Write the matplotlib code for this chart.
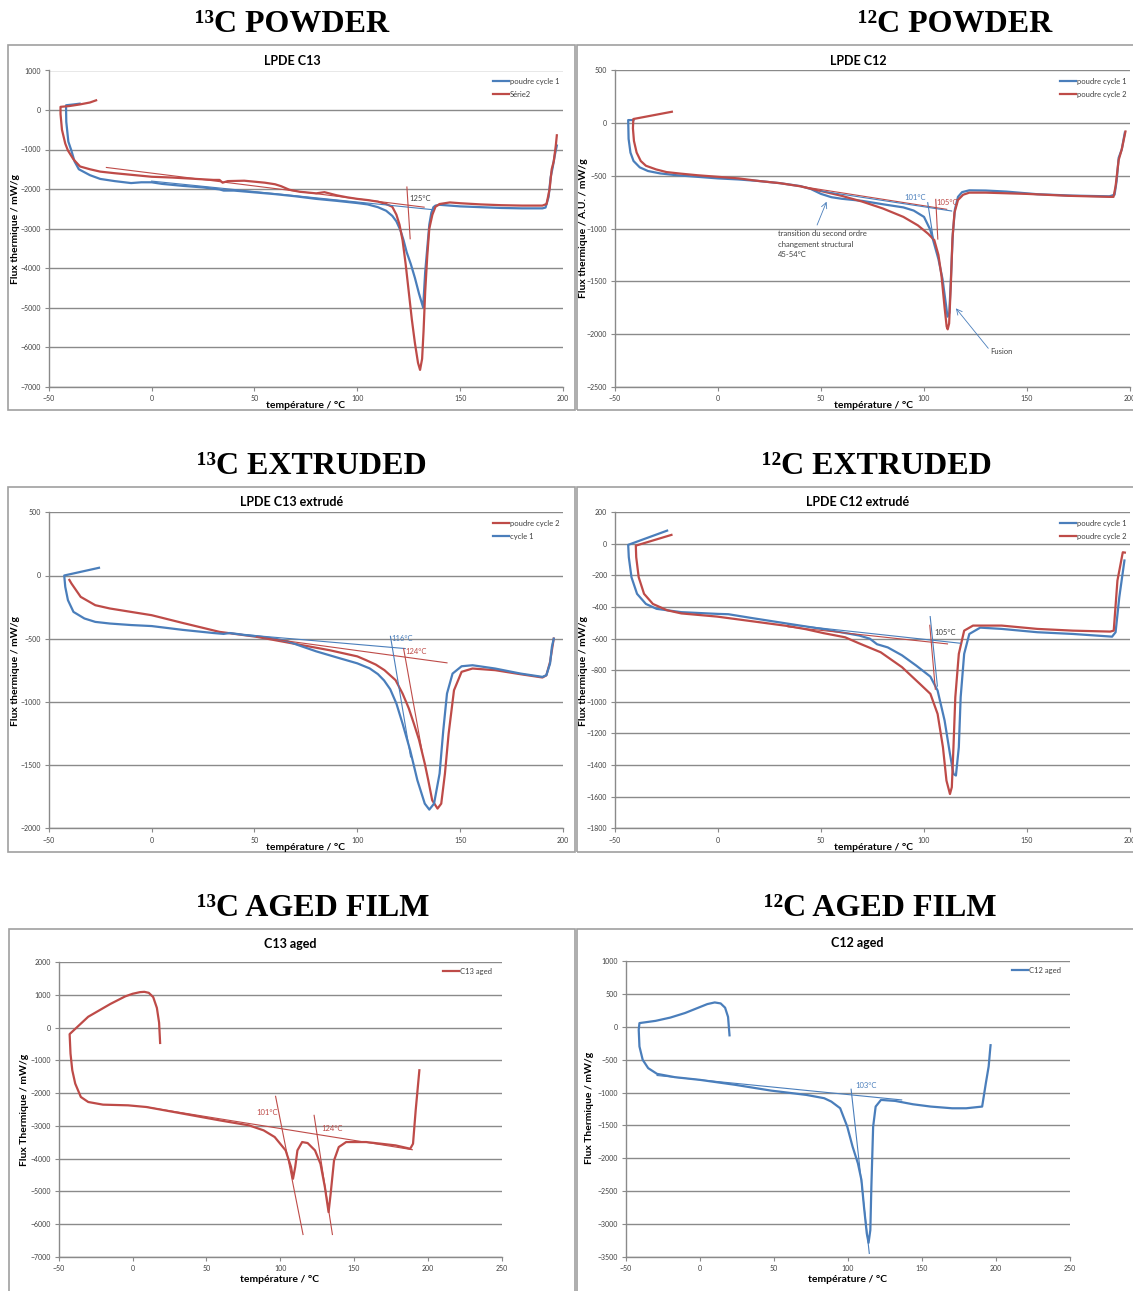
import matplotlib
matplotlib.use("Agg")
import matplotlib.pyplot as plt
from matplotlib.patches import Rectangle

# ---------------- data ----------------
# LPDE C13 powder
c13_powder_cycle1_T = [-35, -38, -41.6, -41.6, -41.5, -40.5, -39, -37.5, -35.4, -30, -25, -18, -10, -5, 0,
                       5, 15, 25, 33, 35, 40, 50, 60, 70, 80, 90, 100, 105, 110, 114, 117, 119, 121, 122.5,
                       124, 126, 128, 130, 132, 133, 134, 135, 136, 137, 138, 140, 145, 150, 160, 170, 180,
                       190, 191.5, 193, 194, 195, 196, 197]
c13_powder_cycle1_flux = [160, 140, 120, 0, -300, -800, -1030, -1300, -1500, -1650, -1745, -1800, -1850, -1830,
                          -1830, -1870, -1920, -1960, -2010, -2040, -2040, -2085, -2130, -2185, -2250, -2300,
                          -2356, -2390, -2460, -2550, -2680, -2820, -3050, -3300, -3600, -3900, -4250, -4650,
                          -5000, -4100, -3500, -2900, -2600, -2460, -2420, -2400, -2420, -2440, -2460, -2480,
                          -2490, -2490, -2470, -2200, -1700, -1450, -1150, -900]
c13_powder_cycle2_T = [-27, -30, -35, -40, -44.3, -44.3, -43.6, -42, -40.7, -38, -34.8, -30, -25, -18, -10, 0,
                       10, 20, 30, 33, 34.5, 37, 45, 55, 60, 63, 67, 72, 80, 84, 90, 95, 100, 105, 110, 114,
                       117, 119, 120.5, 122, 123.5, 125, 126.5, 128, 129.5, 130.5, 131.5, 132.2, 133, 134, 135,
                       136.5, 138, 140, 145, 150, 160, 170, 180, 190, 192, 193.5, 194.5, 195.5, 196.5, 197]
c13_powder_cycle2_flux = [245, 190, 140, 100, 80, -100, -500, -850, -1025, -1250, -1430, -1500, -1560, -1600,
                          -1640, -1690, -1710, -1740, -1770, -1770, -1840, -1800, -1790, -1840, -1880, -1930,
                          -2020, -2070, -2110, -2080, -2160, -2210, -2250, -2280, -2320, -2380, -2450, -2650,
                          -2900, -3300, -3900, -4600, -5300, -5900, -6400, -6580, -6300, -5600, -4600, -3700,
                          -3000, -2650, -2450, -2380, -2340, -2360, -2390, -2410, -2420, -2420, -2380, -2000,
                          -1500, -1300, -900, -640]

# LPDE C12 powder
c12_powder_cycle1_T = [-41, -43.6, -43.4, -42.5, -41, -38, -34, -28, -20, -10, 0, 10, 20, 30, 40, 45, 50, 55,
                       60, 70, 80, 90, 95, 100, 103, 105, 107, 109, 110.5, 111.4, 112.3, 113, 114, 115, 116.5,
                       118.5, 122, 130, 140, 155, 172, 190, 192.5, 193.5, 194.5, 196, 197.5]
c12_powder_cycle1_flux = [28, 28, -150, -280, -360, -420, -455, -478, -495, -510, -525, -535, -550, -570, -598,
                          -625, -672, -703, -718, -738, -770, -800, -830, -890, -1010, -1150, -1290, -1480,
                          -1700, -1836, -1800, -1500, -1050, -820, -700, -655, -638, -640, -650, -675, -688,
                          -695, -680, -550, -330, -250, -90]
c12_powder_cycle2_T = [-22.4, -41.1, -41.3, -40.8, -39.5, -37.5, -35, -30, -25, -18, -10, 0, 10, 20, 30, 40, 50,
                       60, 70, 80, 90, 97, 102, 105, 107, 108.5, 110, 111, 111.5, 112.2, 113, 113.8, 114.8,
                       116.5, 119, 122, 130, 150, 170, 190, 192, 193, 194.5, 196, 197.8]
c12_powder_cycle2_flux = [107, 38, -50, -170, -280, -360, -405, -440, -465, -480, -495, -510, -525, -550, -570,
                          -600, -645, -690, -745, -810, -890, -970, -1050, -1110, -1250, -1450, -1750, -1930,
                          -1956, -1900, -1550, -1100, -850, -730, -680, -660, -660, -672, -690, -700, -700, -600,
                          -350, -250, -80]

# LPDE C13 extruded
c13_ext_cycle2_T = [-40, -39, -34.5, -27.4, -20.3, -10, 0, 15, 33, 51, 68.8, 86.5, 100, 104.3, 109, 113.2, 118.6,
                    122, 125, 127.5, 130, 132.8, 134.5, 136.4, 139, 140.8, 142.6, 144.4, 147, 150.7, 156, 167,
                    179.4, 190, 191.9, 193.7, 195.5]
c13_ext_cycle2_flux = [-35, -63, -169, -235, -261, -288, -314, -375, -446, -485, -538, -591, -640, -670, -705,
                       -749, -828, -934, -1050, -1172, -1300, -1488, -1620, -1778, -1844, -1805, -1567, -1251,
                       -908, -762, -736, -749, -781, -807, -790, -684, -499]
c13_ext_cycle1_T = [-25.6, -42.5, -42, -40.7, -38, -32.7, -27.4, -20.3, -10, 0, 15, 30, 35, 38, 45, 51, 60, 66,
                    72, 80, 90, 100, 106, 110, 113, 116, 119, 122, 125.7, 129.2, 132.8, 135, 137.3, 140, 141.8,
                    143.6, 146.3, 150.7, 156, 167, 179.4, 190, 191.9, 193.7, 194.6, 195.5]
c13_ext_cycle1_flux = [61, 0, -90, -195, -288, -340, -367, -380, -392, -400, -430, -455, -462, -455, -470, -480,
                       -500, -520, -555, -600, -648, -695, -735, -780, -830, -900, -1013, -1172, -1383, -1620,
                       -1805, -1852, -1805, -1567, -1224, -934, -776, -718, -710, -736, -776, -802, -789, -697,
                       -565, -500]

# LPDE C12 extruded
c12_ext_cycle1_T = [-24.7, -43.6, -43.3, -42, -39.3, -35, -29.8, -17.8, -5, 0, 5, 16.8, 34, 51.3, 68.6, 73.7,
                    77.2, 82.4, 89.3, 96.2, 103.1, 106.6, 110, 112.6, 114.3, 115.5, 116.9, 117.8, 119.5, 122,
                    127.3, 137.7, 155, 172.3, 191.3, 193, 194.8, 197.3]
c12_ext_cycle1_flux = [84, -6, -84, -211, -316, -380, -411, -432, -440, -443, -445, -470, -505, -540, -580, -600,
                       -635, -655, -705, -770, -840, -928, -1118, -1329, -1456, -1466, -1287, -970, -696, -570,
                       -530, -538, -559, -570, -587, -559, -338, -105]
c12_ext_cycle2_T = [-22.6, -39.9, -39.7, -38.5, -35.9, -31.6, -24.7, -17.8, -0.5, 16.8, 34, 42.7, 51.3, 61.7,
                    68.6, 79, 89.3, 98, 103.1, 106.6, 109.2, 110.9, 112.6, 113.5, 114.3, 115.2, 116.9, 119.5,
                    123.8, 137.7, 155, 172.3, 190.4, 192.1, 193.9, 196.5, 197.5]
c12_ext_cycle2_flux = [57, -11, -84, -211, -316, -380, -420, -440, -460, -490, -520, -540, -565, -591, -630,
                       -686, -780, -886, -949, -1076, -1287, -1498, -1583, -1540, -1287, -970, -696, -549, -517,
                       -517, -538, -549, -555, -549, -232, -53, -55]

# C13 aged film
c13_aged_T = [18.7, 18, 16.5, 14, 11, 8, 5, 0, -5, -15, -30, -42.6, -42, -40.8, -38.8, -35, -30, -20, -3, 9.4,
              34.2, 59, 78.9, 88.8, 96.3, 103.7, 107.4, 108.7, 110.2, 111.7, 114.9, 118.6, 123.6, 127.3, 130.3,
              132.8, 134.2, 136.5, 139.7, 144.7, 158.3, 178.2, 188.1, 190, 191.8, 194.3]
c13_aged_flux = [-470, 150, 600, 930, 1060, 1090, 1080, 1030, 950, 720, 330, -200, -794, -1303, -1711, -2118,
                 -2271, -2352, -2373, -2424, -2627, -2831, -2984, -3136, -3340, -3747, -4257, -4613, -4257, -3747,
                 -3493, -3523, -3747, -4155, -4868, -5631, -5071, -4053, -3646, -3493, -3493, -3595, -3697, -3544,
                 -2525, -1303]

# C12 aged film
c12_aged_T = [20, 19, 17, 14, 10, 5, 0, -10, -20, -30, -40.9, -41.4, -40.9, -38.7, -35, -29, -17, 0, 24, 48, 72,
              84, 88.8, 94.8, 99.6, 103.2, 106.8, 109.2, 110.9, 112.8, 114, 115.2, 115.9, 117.1, 118.8, 122.4,
              132, 144, 156, 170.5, 180, 190.8, 193.3, 195.2, 196.4, 196.5]
c12_aged_flux = [-130, 150, 290, 355, 370, 345, 300, 210, 140, 90, 56, -46, -300, -503, -629, -716, -766, -807,
                 -883, -970, -1036, -1086, -1137, -1238, -1518, -1822, -2076, -2330, -2736, -3142, -3284, -3091,
                 -2431, -1518, -1213, -1112, -1127, -1178, -1213, -1239, -1239, -1213, -858, -604, -300, -280]

# construction lines (T, flux end points) and onset labels
c13_powder_lines = [("r", -22, -1455, 132.5, -2460), ("b", 0, -1800, 137, -2525), ("r", 124.1, -1950, 125.7, -3260)]
c12_powder_lines = [("r", 40, -600, 111, -818), ("b", 50, -645, 113.4, -834),
                    ("b", 101.8, -755, 104.5, -1093), ("r", 105.7, -724, 106.7, -1100)]
c13_ext_lines = [("b", 38.7, -459, 123.3, -578), ("r", 51, -485, 143.6, -691),
                 ("b", 116.1, -481, 125.9, -1435), ("r", 122.5, -578, 131.4, -1383)]
c12_ext_lines = [("b", 34, -510, 117.8, -629), ("r", 34, -525, 111.4, -633),
                 ("b", 103, -460, 106.5, -900), ("r", 102.8, -515, 105.5, -920)]
c13_aged_lines = [("r", 9.4, -2424, 189.5, -3727), ("r", 96.9, -2098, 115.5, -6314), ("r", 123, -2678, 135.4, -6314)]
c12_aged_lines = [("b", -29, -741, 136.4, -1112), ("b", 102.2, -949, 114.5, -3446)]

# ---------------- style ----------------
W, H = 1133, 1291
BLUE = "#4A7EBB"
RED = "#BE4B48"
GRID = "#8a8a8a"
TXT = "#404040"
COL = {"b": BLUE, "r": RED}
SANS = ["Lato", "DejaVu Sans"]
plt.rcParams["font.family"] = SANS

fig = plt.figure(figsize=(W / 100, H / 100), dpi=100)
fig.patch.set_facecolor("white")


def fx(x):
    return x / W


def fy(y):
    return 1 - y / H


def frame(x0, y0, x1, y1):
    fig.add_artist(Rectangle((fx(x0), fy(y1)), fx(x1 - x0), (y1 - y0) / H, fill=False,
                             edgecolor="#a0a0a0", lw=1.2, transform=fig.transFigure))


def section(x, y, s):
    fig.text(fx(x), fy(y), s, family=["Liberation Serif", "DejaVu Serif"], weight="bold",
             size=23, ha="center", va="center")


def make_axes(x0, x1, ytop, ybot, xlim, xticks, ylim, yticks, title, tx, ty,
              ylabel, ylx, yly, xlx, xly):
    ax = fig.add_axes([fx(x0), fy(ybot), fx(x1 - x0), (ybot - ytop) / H])
    ax.set_xlim(*xlim)
    ax.set_ylim(*ylim)
    ax.set_xticks(xticks)
    ax.set_yticks(yticks)
    ax.yaxis.grid(True, color=GRID, lw=1.0)
    ax.set_axisbelow(True)
    for s in ("top", "right"):
        ax.spines[s].set_visible(False)
    for s in ("left", "bottom"):
        ax.spines[s].set_color(GRID)
        ax.spines[s].set_linewidth(1.0)
    ax.tick_params(axis="both", labelsize=5, colors=GRID, labelcolor=TXT, length=3, width=0.8)
    ax.tick_params(axis="x", pad=3)
    ax.tick_params(axis="y", pad=2.5)
    ax.patch.set_alpha(0)
    fig.text(fx(tx), fy(ty), title, weight="bold", size=9, ha="center", va="center")
    fig.text(fx(ylx), fy(yly), ylabel, weight="bold", size=7.5, rotation=90, ha="center", va="center")
    fig.text(fx(xlx), fy(xly), "température / °C", weight="bold", size=7.5, ha="center", va="center")
    return ax


def legend(ax, lx, ly):
    leg = ax.legend(loc="upper left", bbox_to_anchor=(fx(lx), fy(ly)), bbox_transform=fig.transFigure,
                    frameon=False, fontsize=5.5, handlelength=2.1, handletextpad=0.1,
                    borderpad=0, borderaxespad=0, labelspacing=0.75)
    for t in leg.get_texts():
        t.set_color(TXT)


def guides(ax, lines):
    for c, x0, y0, x1, y1 in lines:
        ax.plot([x0, x1], [y0, y1], color=COL[c], lw=0.8)


LW = 1.6

# ---------------- frames and section titles ----------------
frame(8, 45, 575, 410)
frame(577, 45, 1140, 410)
frame(8, 487, 575, 852)
frame(577, 487, 1140, 852)
frame(9, 929, 575, 1300)
frame(577, 929, 1140, 1300)

section(292, 24, "¹³C POWDER")
section(955, 24, "¹²C POWDER")
section(312, 466, "¹³C EXTRUDED")
section(877, 466, "¹²C EXTRUDED")
section(313, 908, "¹³C AGED FILM")
section(880, 908, "¹²C AGED FILM")

xt200 = [-50, 0, 50, 100, 150, 200]
xt250 = [-50, 0, 50, 100, 150, 200, 250]

# ---------------- LPDE C13 powder ----------------
ax1 = make_axes(48.8, 563, 70.5, 386.5, (-50, 200), xt200, (-7000, 1000), range(-7000, 1001, 1000),
                "LPDE C13", 292, 61, "Flux thermique / mW/g", 16, 229, 306, 405)
ax1.plot(c13_powder_cycle1_T, c13_powder_cycle1_flux, color=BLUE, lw=LW, label="poudre cycle 1")
ax1.plot(c13_powder_cycle2_T, c13_powder_cycle2_flux, color=RED, lw=LW, label="Série2")
guides(ax1, c13_powder_lines)
ax1.text(125.5, -2230, "125°C", fontsize=5.5, color=TXT, va="center", ha="left")
legend(ax1, 493, 78)

# ---------------- LPDE C12 powder ----------------
ax2 = make_axes(615, 1130, 70.3, 386.7, (-50, 200), xt200, (-2500, 500), range(-2500, 501, 500),
                "LPDE C12", 858, 61, "Flux thermique / A.U. / mW/g", 583, 228, 873, 405)
ax2.plot(c12_powder_cycle1_T, c12_powder_cycle1_flux, color=BLUE, lw=LW, label="poudre cycle 1")
ax2.plot(c12_powder_cycle2_T, c12_powder_cycle2_flux, color=RED, lw=LW, label="poudre cycle 2")
guides(ax2, c12_powder_lines)
ax2.text(95.5, -705, "101°C", fontsize=5.5, color=BLUE, va="center", ha="center")
ax2.text(106, -752, "105°C", fontsize=5.5, color=RED, va="center", ha="left")
ax2.annotate("", xy=(52.7, -746), xytext=(48.1, -967),
             arrowprops=dict(arrowstyle="->", color=BLUE, lw=0.6, shrinkA=0, shrinkB=0))
ax2.text(29, -1046, "transition du second ordre", fontsize=5.5, color=TXT, va="center", ha="left")
ax2.text(29, -1147, "changement structural", fontsize=5.5, color=TXT, va="center", ha="left")
ax2.text(29, -1245, "45-54°C", fontsize=5.5, color=TXT, va="center", ha="left")
ax2.annotate("", xy=(115.5, -1757), xytext=(131.2, -2136),
             arrowprops=dict(arrowstyle="->", color=BLUE, lw=0.6, shrinkA=0, shrinkB=0))
ax2.text(132, -2168, "Fusion", fontsize=5.5, color=TXT, va="center", ha="left")
legend(ax2, 1060, 78)

# ---------------- LPDE C13 extruded ----------------
ax3 = make_axes(48.8, 563, 512.3, 828.3, (-50, 200), xt200, (-2000, 500), range(-2000, 501, 500),
                "LPDE C13 extrudé", 292, 502, "Flux thermique / mW/g", 16, 671, 306, 848)
ax3.plot(c13_ext_cycle2_T, c13_ext_cycle2_flux, color=RED, lw=LW, label="poudre cycle 2")
ax3.plot(c13_ext_cycle1_T, c13_ext_cycle1_flux, color=BLUE, lw=LW, label="cycle 1")
guides(ax3, c13_ext_lines)
ax3.text(116.5, -500, "116°C", fontsize=5.5, color=BLUE, va="center", ha="left")
ax3.text(123.5, -604, "124°C", fontsize=5.5, color=RED, va="center", ha="left")
legend(ax3, 493, 520)

# ---------------- LPDE C12 extruded ----------------
ax4 = make_axes(615, 1130, 512.3, 828.3, (-50, 200), xt200, (-1800, 200), range(-1800, 201, 200),
                "LPDE C12 extrudé", 858, 502, "Flux thermique / mW/g", 583, 671, 873, 848)
ax4.plot(c12_ext_cycle1_T, c12_ext_cycle1_flux, color=BLUE, lw=LW, label="poudre cycle 1")
ax4.plot(c12_ext_cycle2_T, c12_ext_cycle2_flux, color=RED, lw=LW, label="poudre cycle 2")
guides(ax4, c12_ext_lines)
ax4.text(105, -560, "105°C", fontsize=5.5, color=TXT, va="center", ha="left")
legend(ax4, 1060, 520)

# ---------------- C13 aged ----------------
ax5 = make_axes(58.7, 501.6, 962, 1257, (-50, 250), xt250, (-7000, 2000), range(-7000, 2001, 1000),
                "C13 aged", 290, 944, "Flux Thermique / mW/g", 25, 1110, 280, 1280)
ax5.plot(c13_aged_T, c13_aged_flux, color=RED, lw=LW, label="C13 aged")
guides(ax5, c13_aged_lines)
ax5.text(91, -2600, "101°C", fontsize=5.5, color=RED, va="center", ha="center")
ax5.text(128, -3085, "124°C", fontsize=5.5, color=RED, va="center", ha="left")
legend(ax5, 443, 968)

# ---------------- C12 aged ----------------
ax6 = make_axes(626, 1069.7, 961, 1257, (-50, 250), xt250, (-3500, 1000), range(-3500, 1001, 500),
                "C12 aged", 857, 943, "Flux Thermique / mW/g", 590, 1108, 847, 1280)
ax6.plot(c12_aged_T, c12_aged_flux, color=BLUE, lw=LW, label="C12 aged")
guides(ax6, c12_aged_lines)
ax6.text(105, -900, "103°C", fontsize=5.5, color=BLUE, va="center", ha="left")
legend(ax6, 1012, 967)

fig.savefig("out.png", dpi=100, facecolor="white")
